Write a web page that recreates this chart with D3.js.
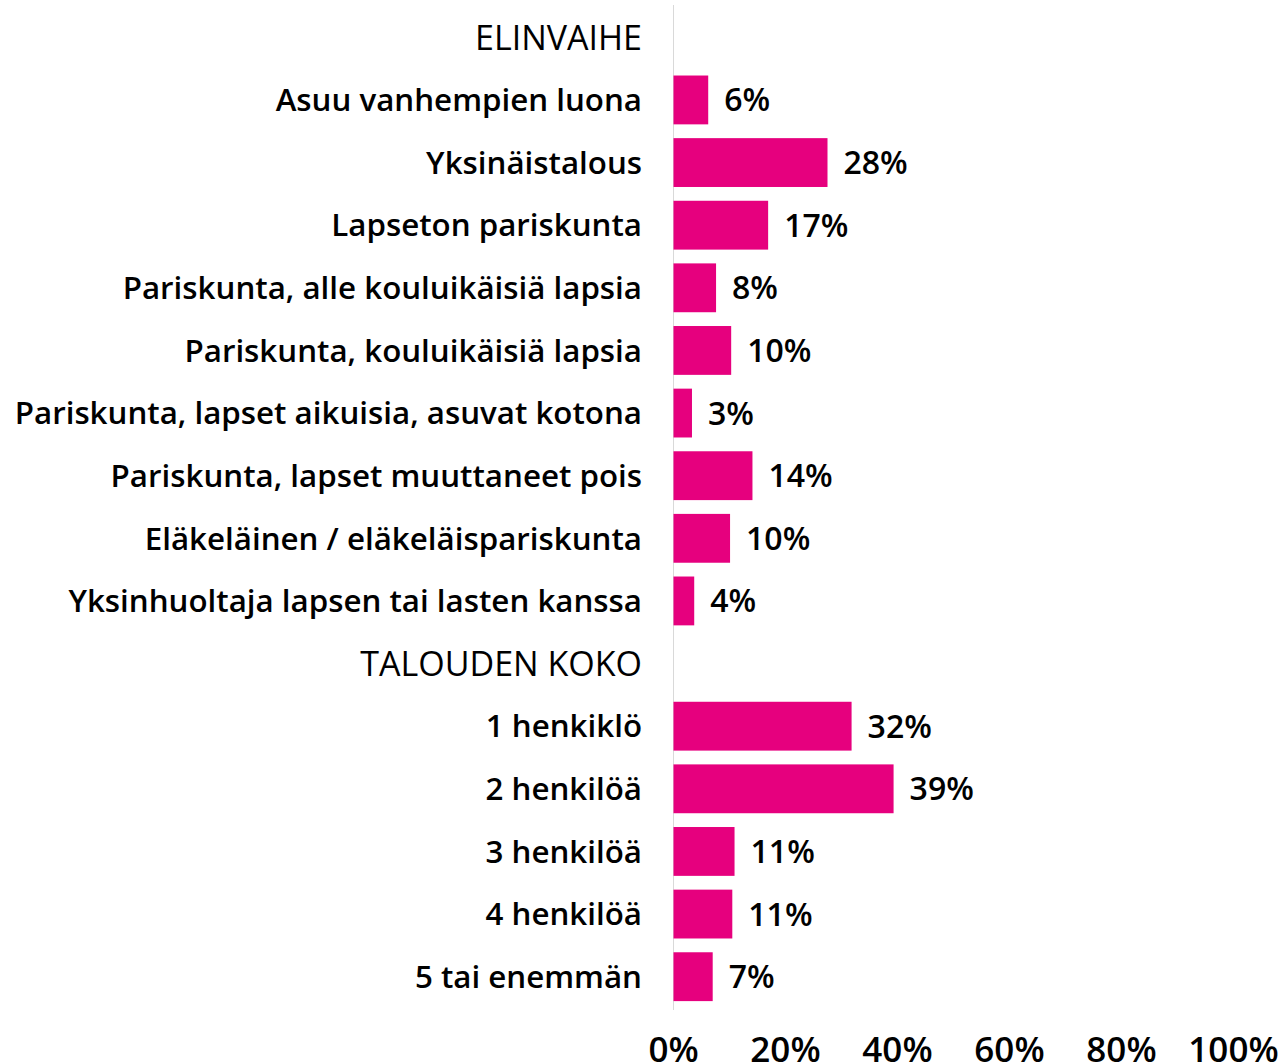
<!DOCTYPE html>
<html>
<head>
<meta charset="utf-8">
<script src="https://cdn.jsdelivr.net/npm/d3@7"></script>
<style>
  body { margin: 0; background: #fff; }
  text { font-family: "Open Sans", Lato, sans-serif; font-weight: 600; fill: #000; }
</style>
</head>
<body>
<div class="chart"></div>
<script>
// rows top to bottom, headers have no value
var labels = ["ELINVAIHE",
  "Asuu vanhempien luona", "Yksinäistalous", "Lapseton pariskunta",
  "Pariskunta, alle kouluikäisiä lapsia", "Pariskunta, kouluikäisiä lapsia",
  "Pariskunta, lapset aikuisia, asuvat kotona", "Pariskunta, lapset muuttaneet pois",
  "Eläkeläinen / eläkeläispariskunta", "Yksinhuoltaja lapsen tai lasten kanssa",
  "TALOUDEN KOKO",
  "1 henkiklö", "2 henkilöä", "3 henkilöä", "4 henkilöä", "5 tai enemmän"];
var values = [null, 6.2, 27.5, 16.9, 7.6, 10.3, 3.3, 14.1, 10.1, 3.7,
  null, 31.8, 39.3, 10.9, 10.5, 7.0];
var valueLabels = ["", "6%", "28%", "17%", "8%", "10%", "3%", "14%", "10%", "4%",
  "", "32%", "39%", "11%", "11%", "7%"];
var ticks = [0, 20, 40, 60, 80, 100];

var width = 1281, height = 1063;

var svg = d3.select(".chart").append("svg")
  .attr("width", width)
  .attr("height", height);

var x = d3.scaleLinear().domain([0, 100]).range([673.5, 1233.5]);
var y = d3.scaleBand().domain(d3.range(labels.length)).range([6, 1008]).paddingInner(0.22).paddingOuter(0.11);

//axis line
svg.append("line")
  .attr("x1", x(0)).attr("x2", x(0))
  .attr("y1", 5).attr("y2", 1010)
  .attr("stroke", "#d9d9d9").attr("stroke-width", 1);

//bars
var rows = labels.map(function(l, i){ return {label: l, value: values[i], text: valueLabels[i], i: i}; });

svg.selectAll("rect.bar")
  .data(rows.filter(function(d){ return d.value != null; }))
  .enter().append("rect")
  .attr("class", "bar")
  .attr("x", x(0))
  .attr("y", function(d){ return y(d.i); })
  .attr("width", function(d){ return x(d.value) - x(0); })
  .attr("height", y.bandwidth())
  .attr("fill", "#e6007e");

//value labels
svg.selectAll("text.val")
  .data(rows.filter(function(d){ return d.value != null; }))
  .enter().append("text")
  .attr("class", "val")
  .attr("x", function(d){ return x(d.value) + 16; })
  .attr("y", function(d){ return y(d.i) + y.bandwidth()/2; })
  .attr("dy", "0.36em")
  .style("font-size", "32px")
  .text(function(d){ return d.text; });

//category labels
svg.selectAll("text.cat")
  .data(rows)
  .enter().append("text")
  .attr("class", "cat")
  .attr("x", 642)
  .attr("y", function(d){ return y(d.i) + y.bandwidth()/2; })
  .attr("dy", "0.36em")
  .attr("text-anchor", "end")
  .style("font-size", function(d){ return d.value == null ? "34px" : "31.3px"; })
  .style("font-weight", function(d){ return d.value == null ? 400 : 600; })
  .text(function(d){ return d.label; });

//x ticks
svg.selectAll("text.tick")
  .data(ticks)
  .enter().append("text")
  .attr("class", "tick")
  .attr("x", function(d){ return x(d); })
  .attr("y", 1062)
  .attr("text-anchor", "middle")
  .style("font-size", "35px")
  .text(function(d){ return d + "%"; });
</script>
</body>
</html>
